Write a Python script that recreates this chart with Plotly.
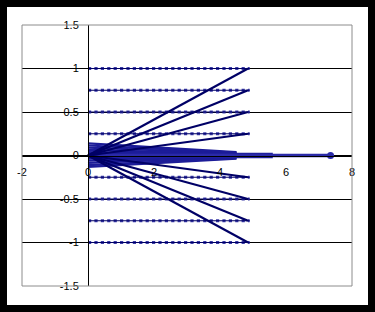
import plotly.graph_objects as go

# ---- data ----
flat_levels = [1, 0.75, 0.5, 0.25, -0.25, -0.5, -0.75, -1]
flat_x = [0, 4.9]

ray_end_y = [1, 0.75, 0.5, 0.25, -0.25, -0.5, -0.75, -1]
ray_x = [0, 4.85]

band_start_y = [0.14, 0.115, 0.09, 0.065, 0.04, 0.015, -0.01, -0.035, -0.06, -0.085, -0.11, -0.13]
band_end_y = [0.04, 0.033, 0.026, 0.019, 0.012, 0.005, -0.002, -0.009, -0.016, -0.023, -0.03, -0.037]
band_x = [0, 4.5]

tail_x_long = [0, 7.3]
tail_x_short = [0, 5.6]
tail_end_x = [7.35]
tail_end_y = [0]

x_ticks = [-2, 0, 2, 4, 6, 8]
x_tick_text = ["-2", "0", "2", "4", "6", "8"]
y_ticks = [-1.5, -1, -0.5, 0, 0.5, 1, 1.5]
y_tick_text = ["-1.5", "-1", "-0.5", "0", "0.5", "1", "1.5"]

NAVY = "#1c1c98"
DARK = "#000066"

fig = go.Figure()

# dense band near zero
for ys, ye in zip(band_start_y, band_end_y):
    fig.add_trace(go.Scatter(x=band_x, y=[ys, ye], mode="lines",
                             line=dict(color=NAVY, width=2.2), hoverinfo="skip"))
# tail along zero
fig.add_trace(go.Scatter(x=tail_x_short, y=[0, 0], mode="lines",
                         line=dict(color=NAVY, width=5.5), hoverinfo="skip"))
fig.add_trace(go.Scatter(x=tail_x_long, y=[0, 0], mode="lines",
                         line=dict(color="#2a2aa8", width=3.5), hoverinfo="skip"))
fig.add_trace(go.Scatter(x=tail_end_x, y=tail_end_y, mode="markers",
                         marker=dict(color="#2a2aa8", size=7, symbol="circle"), hoverinfo="skip"))

# flat dotted lines
for lv in flat_levels:
    yy = [lv, lv]
    fig.add_trace(go.Scatter(x=flat_x, y=yy, mode="lines",
                             line=dict(color="#3a3aa8", width=3.2, dash="dot"), hoverinfo="skip"))
    fig.add_trace(go.Scatter(x=flat_x, y=yy, mode="lines",
                             line=dict(color=DARK, width=1), hoverinfo="skip"))

# rays from origin
for ye in ray_end_y:
    fig.add_trace(go.Scatter(x=ray_x, y=[0, ye], mode="lines",
                             line=dict(color=DARK, width=2.2), hoverinfo="skip"))

font = dict(family="Liberation Sans, Arial, sans-serif", size=11, color="black")

fig.update_layout(
    width=375, height=312,
    margin=dict(l=22, r=23, t=25, b=26, pad=0),
    paper_bgcolor="black",
    plot_bgcolor="white",
    showlegend=False,
    font=font,
    xaxis=dict(range=[-2, 8], tickvals=x_ticks, ticktext=x_tick_text,
               showgrid=False, zeroline=False, showline=True, linecolor="black",
               linewidth=1, anchor="free", position=0.5, ticks="",
               ticklabelstandoff=6, tickfont=font, fixedrange=True),
    yaxis=dict(range=[-1.5, 1.5], tickvals=y_ticks, ticktext=y_tick_text,
               showgrid=True, gridcolor="black", gridwidth=1, zeroline=False,
               showline=True, linecolor="black", linewidth=1,
               anchor="free", position=0.2, ticks="",
               ticklabelstandoff=7, tickfont=font, fixedrange=True),
    shapes=[
        dict(type="rect", xref="paper", yref="paper",
             x0=-15 / 330, x1=346 / 330, y0=-19 / 261, y1=279 / 261,
             fillcolor="white", line=dict(width=0), layer="below"),
        dict(type="rect", xref="paper", yref="paper",
             x0=0, x1=1, y0=0, y1=1,
             fillcolor="rgba(0,0,0,0)", line=dict(color="#8c8c8c", width=1), layer="above"),
    ],
)

fig.write_html("out.html")
